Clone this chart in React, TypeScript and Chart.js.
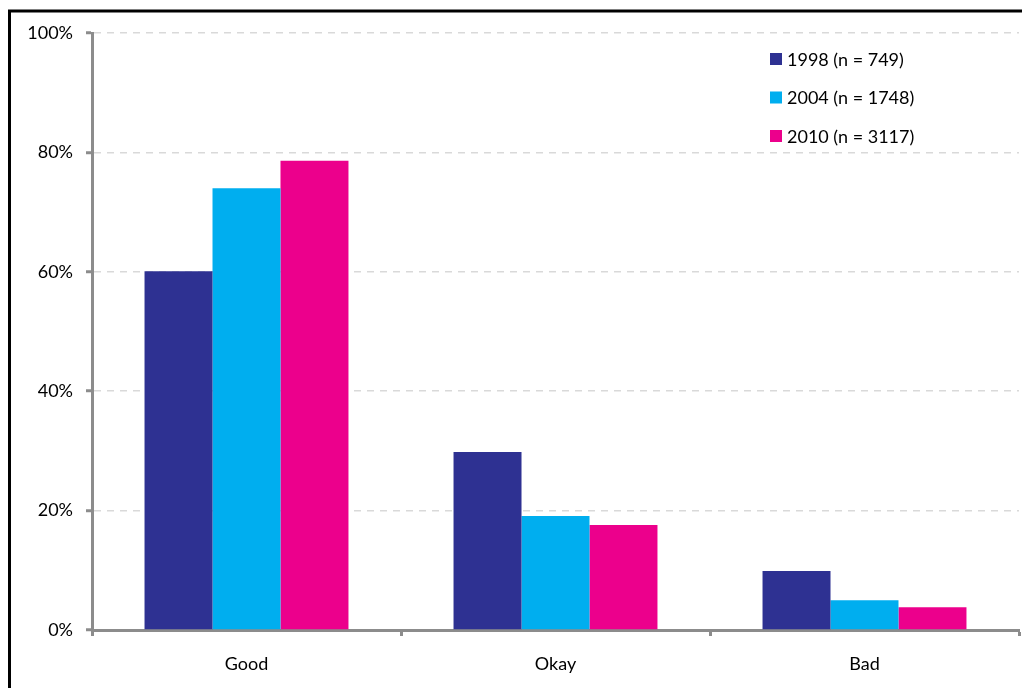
import React, { useEffect, useRef } from "react";
import { Chart, registerables } from "chart.js";

Chart.register(...registerables);

const categories = ["Good", "Okay", "Bad"];
const seriesLabels = ["1998 (n = 749)", "2004 (n = 1748)", "2010 (n = 3117)"];
const values1998 = [60.1, 29.8, 9.9];
const values2004 = [74.0, 19.1, 5.0];
const values2010 = [78.6, 17.6, 3.8];
const seriesColors = ["#2E3192", "#00AEEF", "#EC008C"];
const yTicks = [0, 20, 40, 60, 80, 100];

const FONT = "Lato, 'Open Sans', sans-serif";
const AXIS_GRAY = "#8c8c8c";

const frameAndLegend = {
  id: "frameAndLegend",
  afterDraw(chart: any) {
    const ctx = chart.ctx;
    const { width, height } = chart;
    ctx.save();
    // outer frame (top and left visible)
    ctx.strokeStyle = "#000";
    ctx.lineWidth = 3;
    ctx.beginPath();
    ctx.moveTo(1.5, height + 5);
    ctx.lineTo(1.5, 3);
    ctx.lineTo(width + 5, 3);
    ctx.stroke();

    // legend
    const area = chart.chartArea;
    const x0 = area.right - 249;
    const y0 = 51;
    const step = 38.5;
    ctx.font = `18px ${FONT}`;
    ctx.textBaseline = "middle";
    ctx.textAlign = "left";
    chart.data.datasets.forEach((ds: any, i: number) => {
      const cy = y0 + i * step;
      ctx.fillStyle = ds.backgroundColor;
      ctx.fillRect(x0, cy - 6, 12, 12);
      ctx.fillStyle = "#000";
      ctx.fillText(ds.label, x0 + 17, cy + 1);
    });
    ctx.restore();
  },
};

export default function App() {
  const ref = useRef<HTMLCanvasElement | null>(null);

  useEffect(() => {
    document.body.style.overflow = "hidden";
    const canvas = ref.current;
    if (!canvas) return;
    const seriesValues = [values1998, values2004, values2010];
    const chart = new Chart(canvas, {
      type: "bar",
      data: {
        labels: categories,
        datasets: seriesLabels.map((label, i) => ({
          label,
          data: seriesValues[i],
          backgroundColor: seriesColors[i],
          borderWidth: 0,
          categoryPercentage: 0.66,
          barPercentage: 1.0,
        })),
      },
      options: {
        responsive: false,
        animation: false,
        devicePixelRatio: 1,
        layout: { padding: { top: 25, right: 11, left: 0, bottom: 0 } },
        plugins: {
          legend: { display: false },
          tooltip: { enabled: false },
        },
        scales: {
          x: {
            offset: true,
            grid: {
              display: true,
              drawOnChartArea: false,
              drawTicks: true,
              tickLength: 6,
              tickWidth: 3,
              tickColor: AXIS_GRAY,
              offset: true,
            },
            border: { display: true, color: AXIS_GRAY, width: 3 },
            ticks: {
              color: "#000",
              font: { family: FONT, size: 18 },
              padding: 17,
            },
            afterFit: (scale: any) => {
              scale.height = 58;
            },
          },
          y: {
            min: 0,
            max: 100,
            afterBuildTicks: (scale: any) => {
              scale.ticks = yTicks.map((v) => ({ value: v }));
            },
            grid: {
              color: "#d9d9d9",
              lineWidth: 1.5,
              drawTicks: true,
              tickLength: 6,
              tickWidth: 3,
              tickColor: AXIS_GRAY,
            },
            border: { display: true, color: AXIS_GRAY, width: 3, dash: [7, 6] },
            ticks: {
              color: "#000",
              font: { family: FONT, size: 18 },
              padding: 13,
              callback: (v: any) => `${v}%`,
            },
            afterFit: (scale: any) => {
              scale.width = 84;
            },
          },
        },
      },
      plugins: [frameAndLegend],
    });
    return () => chart.destroy();
  }, []);

  return (
    <div style={{ width: 1022, height: 680 }}>
      <canvas ref={ref} width={1022} height={680} style={{ display: "block" }} />
    </div>
  );
}
